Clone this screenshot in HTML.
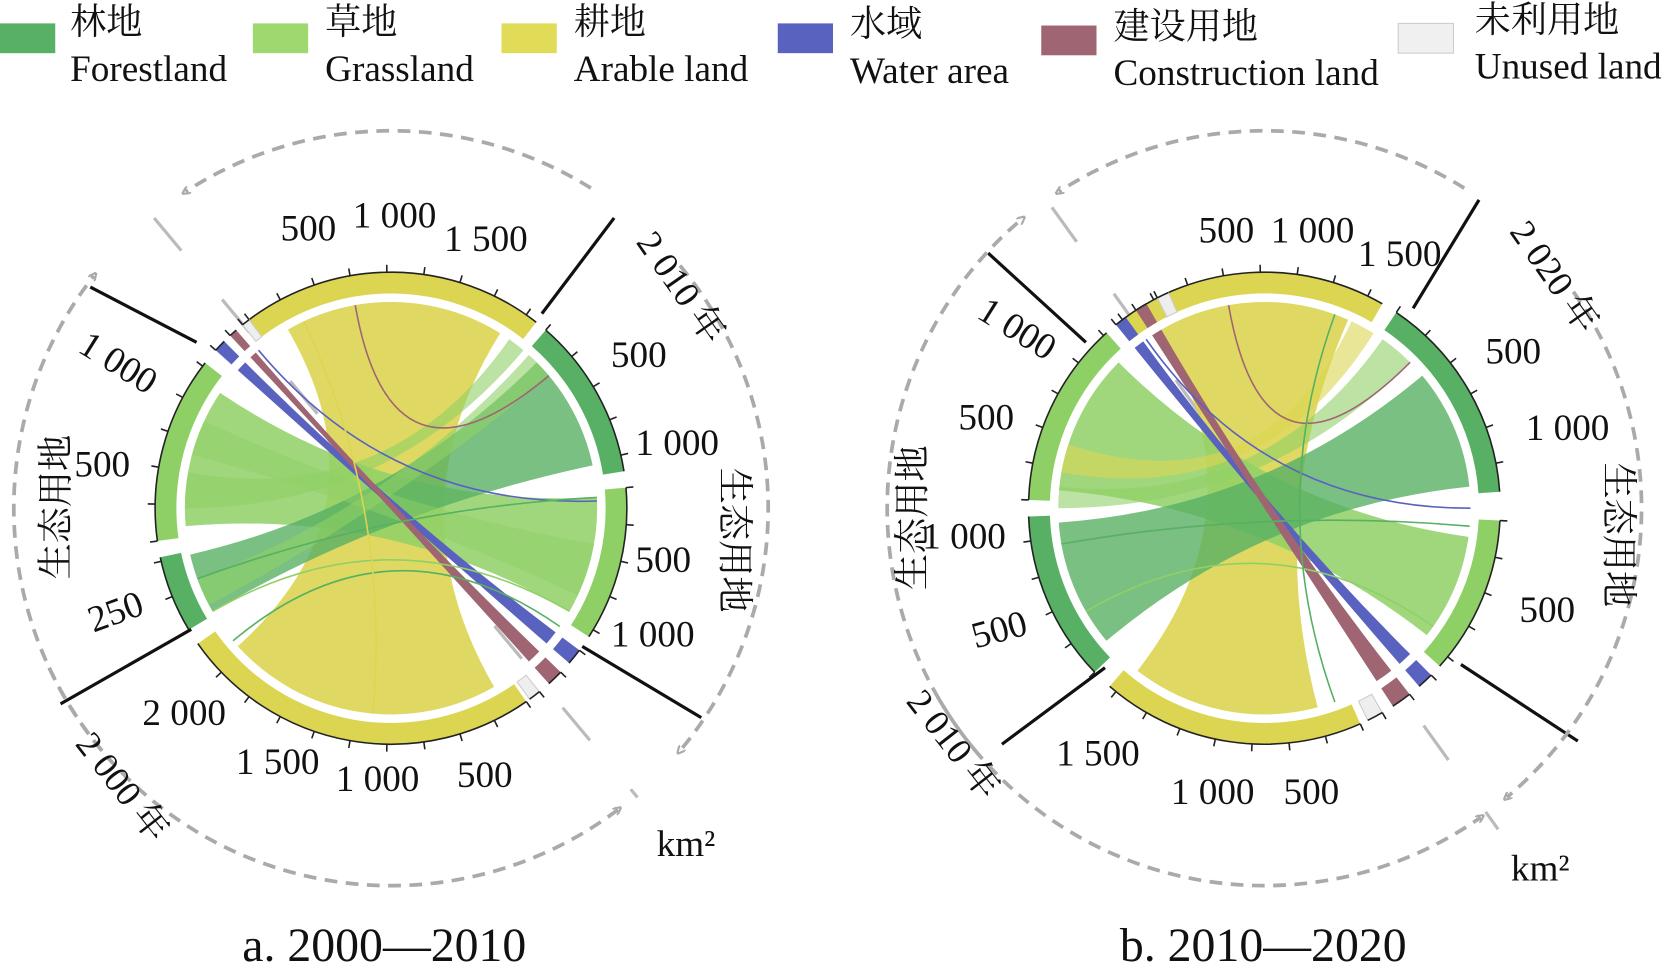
<!DOCTYPE html>
<html><head><meta charset="utf-8"><style>
html,body{margin:0;padding:0;background:#fff;}
svg{display:block;}
.n{font-family:"Liberation Serif","Noto Serif CJK SC",serif;font-size:35px;fill:#111;}
.c{font-family:"Liberation Serif","Noto Serif CJK SC",serif;font-size:34px;fill:#111;}
</style></head><body>
<svg id="s" width="1666" height="976" viewBox="0 0 1568 918" preserveAspectRatio="none" xmlns="http://www.w3.org/2000/svg">
<defs>
<marker id="ar" markerWidth="8" markerHeight="8" refX="4" refY="4" orient="auto" markerUnits="userSpaceOnUse" viewBox="0 0 8 8">
<path d="M0,0 L8,4 L0,8" fill="none" stroke="#aaa" stroke-width="2"/></marker>
</defs>
<!-- legend -->
<rect x="0" y="22" width="52" height="28" fill="#57b063"/>
<text class="c" x="66" y="32">林地</text><text class="n" x="66" y="76">Forestland</text>
<rect x="238" y="22" width="52" height="28" fill="#9ed86f"/>
<text class="c" x="306" y="32">草地</text><text class="n" x="306" y="76">Grassland</text>
<rect x="472" y="22" width="52" height="28" fill="#e0dc58"/>
<text class="c" x="540" y="32">耕地</text><text class="n" x="540" y="76">Arable land</text>
<rect x="732" y="22" width="52" height="28" fill="#5a62c0"/>
<text class="c" x="800" y="34">水域</text><text class="n" x="800" y="78">Water area</text>
<rect x="980" y="24" width="52" height="28" fill="#a06572"/>
<text class="c" x="1048" y="36">建设用地</text><text class="n" x="1048" y="80">Construction land</text>
<rect x="1316" y="22" width="52" height="28" fill="#f0f0f0" stroke="#ccc"/>
<text class="c" x="1388" y="30">未利用地</text><text class="n" x="1388" y="74">Unused land</text>

<g id="g1"></g><g id="g2"></g>

<!-- left labels -->
<text class="n" x="264" y="226">500</text><text class="n" x="332" y="214">1 000</text><text class="n" x="418" y="236">1 500</text>
<text class="n" x="575" y="345">500</text><text class="n" x="598" y="428">1 000</text>
<text class="n" x="598" y="538">500</text><text class="n" x="575" y="608">1 000</text>
<text class="n" x="430" y="740">500</text><text class="n" x="316" y="744">1 000</text><text class="n" x="222" y="728">1 500</text><text class="n" x="134" y="682">2 000</text>
<text class="n" x="70" y="448">500</text>
<text class="n" transform="translate(88,595) rotate(-20)">250</text>
<text class="n" transform="translate(72,330) rotate(32)">1 000</text>
<text class="c" transform="translate(64,545) rotate(-90)">生态用地</text>
<text class="c" transform="translate(680,440) rotate(90)">生态用地</text>
<text class="c" transform="translate(598,228) rotate(55)">2 010 年</text>
<text class="c" transform="translate(70,700) rotate(52)">2 000 年</text>
<text class="n" x="618" y="805">km²</text>
<text class="n" x="228" y="904" style="font-size:45px">a. 2000—2010</text>

<!-- right labels -->
<text class="n" x="1128" y="228">500</text><text class="n" x="1196" y="228">1 000</text><text class="n" x="1278" y="250">1 500</text>
<text class="n" x="1398" y="342">500</text><text class="n" x="1436" y="414">1 000</text>
<text class="n" x="1430" y="585">500</text>
<text class="n" x="1208" y="756">500</text><text class="n" x="1102" y="756">1 000</text><text class="n" x="994" y="720">1 500</text>
<text class="n" transform="translate(918,610) rotate(-15)">500</text>
<text class="n" x="868" y="516">1 000</text>
<text class="n" x="902" y="404">500</text>
<text class="n" transform="translate(918,298) rotate(32)">1 000</text>
<text class="c" transform="translate(870,555) rotate(-90)">生态用地</text>
<text class="c" transform="translate(1512,435) rotate(90)">生态用地</text>
<text class="c" transform="translate(1420,218) rotate(55)">2 020 年</text>
<text class="c" transform="translate(852,660) rotate(52)">2 010 年</text>
<text class="n" x="1422" y="828">km²</text>
<text class="n" x="1054" y="904" style="font-size:45px">b. 2010—2020</text>
</svg>
<script>
var NS="http://www.w3.org/2000/svg";
var COL={F:"#57b063",G:"#8fd066",A:"#dcd552",W:"#5a62c0",C:"#a06572",U:"#eeeeee"};
function P(cx,cy,r,a){a=a*Math.PI/180;return [cx+r*Math.cos(a),cy+r*Math.sin(a)];}
function el(g,t,at){var e=document.createElementNS(NS,t);for(var k in at)e.setAttribute(k,at[k]);g.appendChild(e);return e;}
function chart(gid,cx,cy,segs,chords,lines,arcs,dash){
 var g=document.getElementById(gid),R=222,ri=202,rc=194;
 arcs.forEach(function(a){var s=P(cx,cy,355,a[0]),e=P(cx,cy,355,a[1]);
  el(g,"path",{d:"M"+s+" A355 355 0 0 "+(a[1]>a[0]?1:0)+" "+e,fill:"none",stroke:"#aaa","stroke-width":3.5,"stroke-dasharray":"12 8","marker-end":"url(#ar)"});});
 el(g,"line",{x1:dash[0],y1:dash[1],x2:dash[2],y2:dash[3],stroke:"#bbb","stroke-width":3,"stroke-dasharray":"40 60"});
 chords.forEach(function(c){var a1=P(cx,cy,rc,c[0]),a2=P(cx,cy,rc,c[1]),b1=P(cx,cy,rc,c[2]),b2=P(cx,cy,rc,c[3]);
  var d="M"+a1+" A"+rc+" "+rc+" 0 0 1 "+a2+" Q"+cx+" "+cy+" "+b1+" A"+rc+" "+rc+" 0 0 1 "+b2+" Q"+cx+" "+cy+" "+a1+"Z";
  el(g,"path",{d:d,fill:COL[c[4]],"fill-opacity":c[5]||0.85});});
 lines.forEach(function(l){var a=P(cx,cy,rc,l[0]),b=P(cx,cy,rc,l[1]);
  el(g,"path",{d:"M"+a+" Q"+cx+" "+cy+" "+b,fill:"none",stroke:COL[l[2]],"stroke-width":l[3]||1.5});});
 segs.forEach(function(s){var a=P(cx,cy,R,s[0]),b=P(cx,cy,R,s[1]),c=P(cx,cy,ri,s[1]),d=P(cx,cy,ri,s[0]);
  var lg=(s[1]-s[0])>180?1:0;
  el(g,"path",{d:"M"+a+" A"+R+" "+R+" 0 "+lg+" 1 "+b+" L"+c+" A"+ri+" "+ri+" 0 "+lg+" 0 "+d+"Z",fill:COL[s[2]],stroke:s[2]=="U"?"#ccc":"none"});
  el(g,"path",{d:"M"+a+" A"+R+" "+R+" 0 "+lg+" 1 "+b,fill:"none",stroke:"#222","stroke-width":1.5});
  for(var t=s[0];t<s[1];t+=9){var p=P(cx,cy,R,t),q=P(cx,cy,R+7,t);el(g,"line",{x1:p[0],y1:p[1],x2:q[0],y2:q[1],stroke:"#222","stroke-width":1.5});}
 });
}
chart("g1",368,478,
 [[-127,-52,"A"],[-49,-9,"F"],[-5,33,"G"],[37,41,"W"],[44,48,"C"],[51,54,"U"],[55,145,"A"],[149,168,"F"],[172,218,"G"],[222,225,"W"],[227,229,"C"],[231,233,"U"]],
 [[-120,-58,60,138,"A",0.9],[175,214,-3,30,"G",0.85],[150,167,-45,-12,"F",0.8],[-48,-40,152,160,"G",0.6],[180,190,-55,-50,"G",0.6],[10,25,195,205,"G",0.5],[222,225,37,41,"W",1],[227,229,44,48,"C",1]],
 [[-100,-40,"C"],[-130,-2,"W"],[160,-3,"F"],[150,30,"G"],[140,35,"F"],[-115,95,"A"]],
 [[-58,-123],[140,218],[155,53],[-40,40]],[145,205,600,750]);
chart("g2",1190,478,
 [[-127,-60,"A"],[-56,-4,"F"],[3,42,"G"],[45,49,"W"],[52,57,"C"],[60,64,"U"],[66,131,"A"],[136,178,"F"],[182,228,"G"],[231,234,"W"],[237,240,"C"],[243,246,"U"]],
 [[-120,-66,75,128,"A",0.9],[185,225,8,38,"G",0.85],[140,176,-40,-6,"F",0.8],[-55,-45,180,186,"G",0.6],[-65,-58,190,198,"A",0.6],[231,234,45,49,"W",1],[237,240,52,57,"C",1]],
 [[-100,-45,"C"],[-125,0,"W"],[170,5,"F"],[150,35,"G"],[-70,70,"F"]],
 [[-58,-123],[140,230],[150,55],[-35,50]],[990,195,1410,780]);
var g=document.getElementById("g1");
[[57,662,180,592],[85,270,185,322],[578,205,510,295],[660,675,548,608],[930,238,1022,322],[943,700,1040,628],[1392,188,1330,290],[1485,697,1375,625]].forEach(function(l){
 el(g,"line",{x1:l[0],y1:l[1],x2:l[2],y2:l[3],stroke:"#111","stroke-width":3});});
</script>
</body></html>
